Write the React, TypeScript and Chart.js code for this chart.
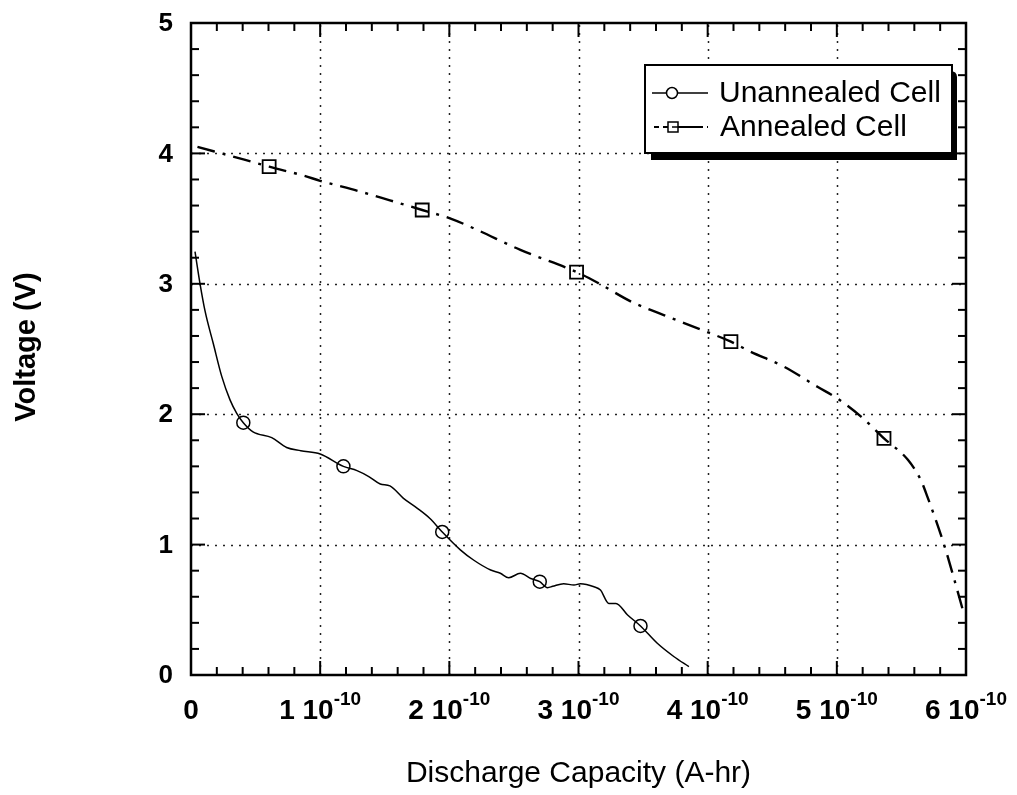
import React, { useEffect, useRef } from 'react';
import { Chart, registerables } from 'chart.js';
Chart.register(...registerables);

// Discharge capacity in units of 1e-10 A-hr, voltage in V
const unannealedCapacity = [0.031, 0.07, 0.109, 0.173, 0.238, 0.302, 0.354, 0.405, 0.48, 0.625, 0.74, 0.85, 1.0, 1.18, 1.285, 1.38, 1.465, 1.54, 1.645, 1.75, 1.85, 1.945, 2.085, 2.19, 2.32, 2.395, 2.46, 2.55, 2.63, 2.7, 2.76, 2.8, 2.885, 2.965, 3.015, 3.12, 3.17, 3.235, 3.29, 3.38, 3.48, 3.61, 3.74, 3.855];
const unannealedVoltage = [3.246, 3.0, 2.79, 2.54, 2.29, 2.11, 2.007, 1.935, 1.865, 1.82, 1.745, 1.72, 1.695, 1.6, 1.567, 1.52, 1.465, 1.45, 1.355, 1.28, 1.2, 1.097, 0.96, 0.88, 0.805, 0.78, 0.746, 0.78, 0.74, 0.716, 0.67, 0.68, 0.7, 0.69, 0.7, 0.677, 0.652, 0.549, 0.549, 0.46, 0.376, 0.243, 0.14, 0.064];
const unannealedMarkers = [7, 13, 21, 29, 40];

const annealedCapacity = [0.05, 0.42, 0.605, 0.87, 1.0, 1.3, 1.54, 1.79, 2.01, 2.19, 2.55, 2.985, 3.145, 3.415, 3.66, 3.945, 4.18, 4.33, 4.59, 4.85, 5.005, 5.19, 5.365, 5.55, 5.65, 5.7, 5.83, 5.91, 5.975];
const annealedVoltage = [4.05, 3.95, 3.898, 3.83, 3.79, 3.71, 3.64, 3.566, 3.5, 3.425, 3.26, 3.09, 3.01, 2.86, 2.76, 2.65, 2.556, 2.48, 2.365, 2.21, 2.12, 1.98, 1.815, 1.65, 1.495, 1.37, 1.0, 0.73, 0.5];
const annealedMarkers = [2, 7, 11, 16, 22];

const seriesLabels = ['Unannealed Cell', 'Annealed Cell'];

const xTickValues = [0, 1, 2, 3, 4, 5, 6];
const xTickMantissas = ['0', '1', '2', '3', '4', '5', '6'];
const xTickExponent = '-10';
const yTickValues = [0, 1, 2, 3, 4, 5];
const yTickLabels = ['0', '1', '2', '3', '4', '5'];
const xMinorStep = 0.2;
const yMinorStep = 0.2;

const xTitle = 'Discharge Capacity (A-hr)';
const yTitle = 'Voltage (V)';

const FONT = '"Liberation Sans", Arial, sans-serif';
const ANNEALED_DASH = [18, 8, 3, 8];

const framePlugin = {
  id: 'framePlugin',
  beforeDatasetsDraw(chart: any) {
    const { ctx, chartArea: a, scales } = chart;
    const xs = scales.x, ys = scales.y;
    ctx.save();
    ctx.strokeStyle = '#222';
    ctx.lineWidth = 1.5;
    ctx.setLineDash([2, 6]);
    xTickValues.forEach((v) => {
      const px = Math.round(xs.getPixelForValue(v)) + 0.5;
      if (px <= a.left + 3 || px >= a.right - 3) return;
      ctx.beginPath();
      ctx.moveTo(px, a.bottom);
      ctx.lineTo(px, a.top);
      ctx.stroke();
    });
    yTickValues.forEach((v) => {
      const py = Math.round(ys.getPixelForValue(v)) + 0.5;
      if (py <= a.top + 3 || py >= a.bottom - 3) return;
      ctx.beginPath();
      ctx.moveTo(a.left, py);
      ctx.lineTo(a.right, py);
      ctx.stroke();
    });
    ctx.restore();
  },
  afterDatasetsDraw(chart: any) {
    const { ctx, chartArea: a, scales } = chart;
    const xs = scales.x, ys = scales.y;
    ctx.save();
    ctx.setLineDash([]);
    ctx.strokeStyle = '#000';
    ctx.fillStyle = '#000';
    ctx.lineWidth = 2;
    const tick = (x1: number, y1: number, x2: number, y2: number) => {
      ctx.beginPath();
      ctx.moveTo(x1, y1);
      ctx.lineTo(x2, y2);
      ctx.stroke();
    };
    const xMin = xTickValues[0], xMax = xTickValues[xTickValues.length - 1];
    for (let i = 0; xMin + i * xMinorStep <= xMax + 1e-9; i++) {
      const v = xMin + i * xMinorStep;
      const len = i % 5 === 0 ? 14 : 8;
      const px = xs.getPixelForValue(v);
      tick(px, a.bottom, px, a.bottom - len);
      tick(px, a.top, px, a.top + len);
    }
    const yMin = yTickValues[0], yMax = yTickValues[yTickValues.length - 1];
    for (let i = 0; yMin + i * yMinorStep <= yMax + 1e-9; i++) {
      const v = yMin + i * yMinorStep;
      const len = i % 5 === 0 ? 14 : 8;
      const py = ys.getPixelForValue(v);
      tick(a.left, py, a.left + len, py);
      tick(a.right, py, a.right - len, py);
    }
    ctx.lineWidth = 2.5;
    ctx.strokeRect(a.left, a.top, a.right - a.left, a.bottom - a.top);

    // y tick labels
    ctx.font = `bold 26px ${FONT}`;
    ctx.textAlign = 'right';
    ctx.textBaseline = 'middle';
    yTickValues.forEach((v, i) => {
      ctx.fillText(yTickLabels[i], a.left - 18, ys.getPixelForValue(v) + 1);
    });
    // x tick labels with superscript exponent
    ctx.textBaseline = 'alphabetic';
    ctx.textAlign = 'left';
    const big = `bold 28px ${FONT}`;
    const small = `bold 19px ${FONT}`;
    xTickValues.forEach((v, i) => {
      const px = xs.getPixelForValue(v);
      const m = xTickMantissas[i];
      if (m === '0') {
        ctx.font = big;
        const w = ctx.measureText(m).width;
        ctx.fillText(m, px - w / 2, a.bottom + 44);
        return;
      }
      const base = `${m} 10`;
      ctx.font = big;
      const w1 = ctx.measureText(base).width;
      ctx.font = small;
      const w2 = ctx.measureText(xTickExponent).width;
      const start = px - (w1 + w2) / 2;
      ctx.font = big;
      ctx.fillText(base, start, a.bottom + 44);
      ctx.font = small;
      ctx.fillText(xTickExponent, start + w1, a.bottom + 30);
    });

    // axis titles
    ctx.font = `30px ${FONT}`;
    ctx.textAlign = 'center';
    ctx.textBaseline = 'alphabetic';
    ctx.fillText(xTitle, (a.left + a.right) / 2, a.bottom + 107);
    ctx.save();
    ctx.translate(27, (a.top + a.bottom) / 2 - 2);
    ctx.rotate(-Math.PI / 2);
    ctx.font = `bold 29px ${FONT}`;
    ctx.textBaseline = 'middle';
    ctx.fillText(yTitle, 0, 0);
    ctx.restore();

    // legend
    const bx = 645, by = 65, bw = 307, bh = 88;
    ctx.fillStyle = '#000';
    ctx.beginPath();
    ctx.moveTo(bx + 6, by + 6);
    ctx.lineTo(bx + bw - 2, by + 6);
    ctx.quadraticCurveTo(bx + bw + 5, by + 6, bx + bw + 5, by + 12);
    ctx.lineTo(bx + bw + 5, by + bh + 7);
    ctx.lineTo(bx + 6, by + bh + 7);
    ctx.closePath();
    ctx.fill();
    ctx.fillStyle = '#fff';
    ctx.fillRect(bx, by, bw, bh);
    ctx.lineWidth = 2;
    ctx.strokeStyle = '#000';
    ctx.strokeRect(bx, by, bw, bh);

    const rows = [by + 28, by + 62];
    ctx.lineWidth = 1.5;
    ctx.setLineDash([]);
    tick(652, rows[0], 708, rows[0]);
    ctx.beginPath();
    ctx.arc(672, rows[0], 5.5, 0, Math.PI * 2);
    ctx.fillStyle = '#fff';
    ctx.fill();
    ctx.stroke();
    ctx.lineWidth = 1.8;
    ctx.setLineDash([5, 4, 40, 4]);
    tick(654, rows[1], 708, rows[1]);
    ctx.setLineDash([]);
    ctx.fillStyle = '#fff';
    ctx.fillRect(668, rows[1] - 5, 10, 10);
    ctx.lineWidth = 1.5;
    ctx.strokeRect(668, rows[1] - 5, 10, 10);
    tick(672, rows[1], 680, rows[1]);

    ctx.fillStyle = '#000';
    ctx.font = `30px ${FONT}`;
    ctx.textAlign = 'left';
    ctx.textBaseline = 'middle';
    ctx.fillText(seriesLabels[0], 719, rows[0] + 1);
    ctx.fillText(seriesLabels[1], 720, rows[1] + 1);
    ctx.restore();
  },
};

export default function App() {
  const ref = useRef<HTMLCanvasElement>(null);
  useEffect(() => {
    document.body.style.margin = '0';
    const canvas = ref.current!;
    const chart = new Chart(canvas, {
      type: 'line',
      data: {
        datasets: [
          {
            label: seriesLabels[0],
            data: unannealedCapacity.map((x, i) => ({ x, y: unannealedVoltage[i] })),
            borderColor: '#000',
            borderWidth: 1.5,
            cubicInterpolationMode: 'monotone',
            fill: false,
            pointStyle: 'circle',
            pointRadius: (c: any) => (unannealedMarkers.includes(c.dataIndex) ? 6.5 : 0),
            pointBorderWidth: 1.5,
            pointBorderColor: '#000',
            pointBackgroundColor: 'rgba(0,0,0,0)',
            pointHoverRadius: 0,
          },
          {
            label: seriesLabels[1],
            data: annealedCapacity.map((x, i) => ({ x, y: annealedVoltage[i] })),
            borderColor: '#000',
            borderWidth: 2.4,
            borderDash: ANNEALED_DASH,
            cubicInterpolationMode: 'monotone',
            fill: false,
            pointStyle: 'rect',
            pointRadius: (c: any) => (annealedMarkers.includes(c.dataIndex) ? 9.2 : 0),
            pointBorderWidth: 1.8,
            pointBorderColor: '#000',
            pointBackgroundColor: 'rgba(0,0,0,0)',
            pointHoverRadius: 0,
          },
        ],
      },
      options: {
        responsive: false,
        animation: false,
        devicePixelRatio: 1,
        layout: { padding: { left: 191, right: 51, top: 23, bottom: 120 } },
        plugins: { legend: { display: false }, tooltip: { enabled: false } },
        events: [],
        scales: {
          x: { type: 'linear', min: 0, max: 6, display: false },
          y: { type: 'linear', min: 0, max: 5, display: false },
        },
      },
      plugins: [framePlugin],
    });
    return () => chart.destroy();
  }, []);
  return (
    <div style={{ width: 1017, height: 795, background: '#fff' }}>
      <canvas ref={ref} width={1017} height={795} style={{ display: 'block' }} />
    </div>
  );
}
